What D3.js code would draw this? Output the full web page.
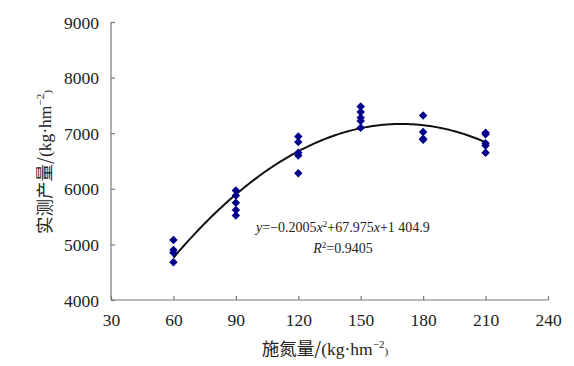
<!DOCTYPE html>
<html><head><meta charset="utf-8">
<script src="https://cdn.jsdelivr.net/npm/d3@7"></script>
<style>body{margin:0;background:#fff}svg{display:block}</style>
</head><body>
<svg id="c" width="574" height="366"></svg>
<script>
const nitrogen = [60, 90, 120, 150, 180, 210];
const yields = [
  [5080, 4900, 4850, 4680],
  [5970, 5880, 5750, 5620, 5520],
  [6940, 6840, 6650, 6600, 6280],
  [7480, 7380, 7280, 7220, 7100],
  [7320, 7020, 6900, 6880],
  [7010, 6980, 6820, 6780, 6650]
];
const fitCoef = [-0.2005, 67.975, 1404.9];
const xTicks = [30, 60, 90, 120, 150, 180, 210, 240];
const yTicks = [4000, 5000, 6000, 7000, 8000, 9000];

const svg = d3.select("#c");
const x = d3.scaleLinear().domain([30, 240]).range([111, 548]);
const y = d3.scaleLinear().domain([4000, 9000]).range([300, 22]);
const serif = "'Liberation Serif','Times New Roman',serif";
const cjk = "'Noto Sans CJK SC',sans-serif";

const gx = svg.append("g").attr("transform", "translate(0,300)")
  .call(d3.axisBottom(x).tickValues(xTicks).tickSizeInner(-4).tickSizeOuter(0).tickPadding(14));
const gy = svg.append("g").attr("transform", "translate(111,0)")
  .call(d3.axisLeft(y).tickValues(yTicks).tickSizeInner(-4).tickSizeOuter(0).tickPadding(12).tickFormat(d3.format("d")));
[gx, gy].forEach(g => {
  g.selectAll("path,line").attr("stroke", "#777").attr("stroke-width", 1.2);
  g.selectAll("text").attr("font-family", serif).attr("font-size", 17.5).attr("fill", "#222");
});
gy.selectAll("text").attr("dy", "0.35em");
gx.select(".domain").attr("d", "M111,0H548");
gy.select(".domain").attr("d", "M0,300V22");

// fitted curve
const fx = d3.range(60, 210.01, 1);
const f = v => fitCoef[0] * v * v + fitCoef[1] * v + fitCoef[2];
svg.append("path").datum(fx)
  .attr("d", d3.line().x(d => x(d)).y(d => y(f(d))).curve(d3.curveBasis))
  .attr("fill", "none").attr("stroke", "#111").attr("stroke-width", 2);

// points
const pts = [];
nitrogen.forEach((n, i) => yields[i].forEach(v => pts.push([n, v])));
svg.append("g").selectAll("path").data(pts).join("path")
  .attr("transform", d => `translate(${x(d[0])},${y(d[1])}) rotate(45)`)
  .attr("d", d3.symbol().type(d3.symbolSquare).size(36))
  .attr("fill", "#00008b");

// equation
const eq = svg.append("text").attr("x", 343).attr("y", 232).attr("text-anchor", "middle")
  .attr("font-family", serif).attr("font-size", 14).attr("fill", "#222");
eq.append("tspan").attr("font-style", "italic").text("y");
eq.append("tspan").text("=−0.2005");
eq.append("tspan").attr("font-style", "italic").text("x");
eq.append("tspan").attr("font-size", 9).attr("dy", -5).text("2");
eq.append("tspan").attr("dy", 5).text("+67.975");
eq.append("tspan").attr("font-style", "italic").text("x");
eq.append("tspan").text("+1 404.9");
const r2 = svg.append("text").attr("x", 343).attr("y", 253).attr("text-anchor", "middle")
  .attr("font-family", serif).attr("font-size", 14).attr("fill", "#222");
r2.append("tspan").attr("font-style", "italic").text("R");
r2.append("tspan").attr("font-size", 9).attr("dy", -5).text("2");
r2.append("tspan").attr("dy", 5).text("=0.9405");

// axis titles
function title(t, parts) {
  parts.forEach(p => {
    const s = t.append("tspan").text(p[0]).attr("font-family", p[1] ? cjk : serif);
    if (p[2]) s.attr("font-size", 11).attr("dy", p[2]);
  });
}
const xt = svg.append("text").attr("x", 325).attr("y", 355).attr("text-anchor", "middle")
  .attr("font-size", 17.5).attr("fill", "#222");
title(xt, [["施氮量/", 1], ["(kg·hm", 0], ["−2", 0, -7], [")", 0, 7]]);
const yt = svg.append("text").attr("transform", "translate(51,162) rotate(-90)").attr("text-anchor", "middle")
  .attr("font-size", 17.5).attr("fill", "#222");
title(yt, [["实测产量/", 1], ["(kg·hm", 0], ["−2", 0, -7], [")", 0, 7]]);
</script>
</body></html>
